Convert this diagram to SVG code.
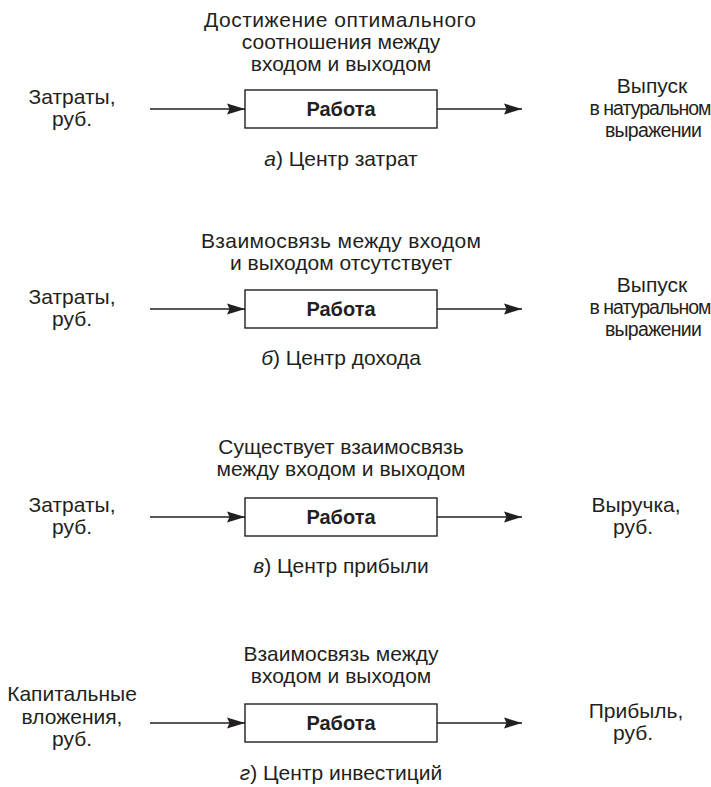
<svg xmlns="http://www.w3.org/2000/svg" width="711" height="787" viewBox="0 0 711 787">
  <style>
    text { font-family: "Liberation Sans", Arial, sans-serif; font-size: 21px; fill: #231f20; text-anchor: middle; }
    .bold { font-weight: bold; font-size: 20px; }
    .it { font-style: italic; }
    .tight { font-size: 19.5px; letter-spacing: -1px; }
    .tight2 { font-size: 19.5px; letter-spacing: -0.7px; }
    .box { fill: #ffffff; stroke: #231f20; stroke-width: 1.4; }
    .line { stroke: #231f20; stroke-width: 1.4; fill: none; }
  </style>
  <defs>
    <marker id="arrow" viewBox="0 0 18 12" refX="18" refY="6" markerWidth="18" markerHeight="12" markerUnits="userSpaceOnUse" orient="auto">
      <path d="M0,0.5 L18,6 L0,11.5 L2.5,6 Z" fill="#231f20"/>
    </marker>
  </defs>
  <rect width="711" height="787" fill="#ffffff"/>

  <!-- а) cost centre -->
  <g id="panel-a">
    <text x="340" y="27" textLength="272" lengthAdjust="spacing">Достижение оптимального</text>
    <text x="341" y="49">соотношения между</text>
    <text x="341" y="71">входом и выходом</text>
    <g id="a-in"><text x="72" y="104">Затраты,</text><text x="72" y="126">руб.</text></g>
    <g id="a-work"><rect class="box" x="245" y="90" width="192" height="38"/><text class="bold" x="341" y="116">Работа</text></g>
    <g id="a-out">
      <text x="652" y="93">Выпуск</text>
      <text class="tight" x="650" y="115">в натуральном</text>
      <text class="tight2" x="653" y="137">выражении</text>
    </g>
    <text x="341" y="166"><tspan class="it">а</tspan>) Центр затрат</text>
  </g>

  <!-- б) revenue centre -->
  <g id="panel-b">
    <text x="341" y="248" textLength="280" lengthAdjust="spacing">Взаимосвязь между входом</text>
    <text x="341" y="270">и выходом отсутствует</text>
    <g id="b-in"><text x="72" y="304">Затраты,</text><text x="72" y="326">руб.</text></g>
    <g id="b-work"><rect class="box" x="245" y="290" width="192" height="38"/><text class="bold" x="341" y="316">Работа</text></g>
    <g id="b-out">
      <text x="652" y="292">Выпуск</text>
      <text class="tight" x="650" y="314">в натуральном</text>
      <text class="tight2" x="653" y="336">выражении</text>
    </g>
    <text x="341" y="365"><tspan class="it">б</tspan>) Центр дохода</text>
  </g>

  <!-- в) profit centre -->
  <g id="panel-c">
    <text x="341" y="454">Существует взаимосвязь</text>
    <text x="341" y="476">между входом и выходом</text>
    <g id="c-in"><text x="72" y="512">Затраты,</text><text x="72" y="534">руб.</text></g>
    <g id="c-work"><rect class="box" x="245" y="498" width="192" height="38"/><text class="bold" x="341" y="524">Работа</text></g>
    <g id="c-out"><text x="636" y="512">Выручка,</text><text x="633" y="534">руб.</text></g>
    <text x="341" y="573"><tspan class="it">в</tspan>) Центр прибыли</text>
  </g>

  <!-- г) investment centre -->
  <g id="panel-d">
    <text x="341" y="661">Взаимосвязь между</text>
    <text x="341" y="683">входом и выходом</text>
    <g id="d-in"><text x="72" y="701">Капитальные</text><text x="72" y="724">вложения,</text><text x="72" y="746">руб.</text></g>
    <g id="d-work"><rect class="box" x="245" y="704" width="192" height="38"/><text class="bold" x="341" y="730">Работа</text></g>
    <g id="d-out"><text x="636" y="718">Прибыль,</text><text x="633" y="740">руб.</text></g>
    <text x="341" y="780"><tspan class="it">г</tspan>) Центр инвестиций</text>
  </g>

  <g id="connectors">
    <line class="line" x1="150" y1="109" x2="245" y2="109" marker-end="url(#arrow)"/>
    <line class="line" x1="437" y1="109" x2="522" y2="109" marker-end="url(#arrow)"/>
    <line class="line" x1="150" y1="309" x2="245" y2="309" marker-end="url(#arrow)"/>
    <line class="line" x1="437" y1="309" x2="522" y2="309" marker-end="url(#arrow)"/>
    <line class="line" x1="150" y1="517" x2="245" y2="517" marker-end="url(#arrow)"/>
    <line class="line" x1="437" y1="517" x2="522" y2="517" marker-end="url(#arrow)"/>
    <line class="line" x1="150" y1="723" x2="245" y2="723" marker-end="url(#arrow)"/>
    <line class="line" x1="437" y1="723" x2="522" y2="723" marker-end="url(#arrow)"/>
  </g>
</svg>
